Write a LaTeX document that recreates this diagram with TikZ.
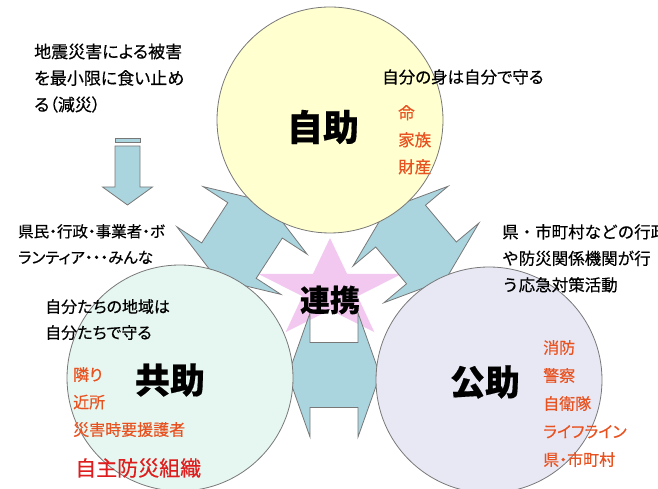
\documentclass[tikz,border=0pt]{standalone}
\usepackage{fontspec}
\setmainfont{Noto Sans CJK JP}[RawFeature=+palt, FakeBold=0.4]
\newfontfamily\fullw{Noto Sans CJK JP}[FakeBold=0.4]
\usepackage{tikz}
\usetikzlibrary{shapes,positioning}
\definecolor{linegray}{RGB}{120,120,120}
\definecolor{arrowblue}{RGB}{170,212,222}
\definecolor{starpink}{RGB}{243,200,240}
\definecolor{jijofill}{RGB}{255,255,208}
\definecolor{kyojofill}{RGB}{230,246,240}
\definecolor{kojofill}{RGB}{232,232,245}
\definecolor{textred}{RGB}{232,82,32}
\definecolor{deepred}{RGB}{222,30,30}

\begin{document}
\begin{tikzpicture}[x=1pt, y=1pt, txt/.style={inner sep=0pt, align=left, anchor=north west}, big/.style={inner sep=0pt}]
\tikzstyle{circ}=[circle, draw=linegray, line width=0.8pt, minimum size=226pt, inner sep=0pt]
\tikzstyle{arr}=[draw=linegray, line width=0.8pt, fill=arrowblue]
\useasboundingbox (0,0) rectangle (658,489);
\clip (0,0) rectangle (658,489);
% star behind everything
\begin{scope}[shift={(330,199)}, xscale=1.45]
\node[star, star points=5, star point ratio=2.6, minimum size=104pt, inner sep=0pt, fill=starpink, transform shape] (star) at (0,0) {};
\end{scope}
\node[txt, font=\fontsize{15.5}{26}\selectfont] (minna) at (18,265) {県民・行政・事業者・ボ\\ランティア・・・みんな};
% double arrows between the circles
\foreach \cx/\cy/\ang in {242/248.5/57, 416/244.5/-50, 334/114/0}
  \draw[arr, shift={(\cx,\cy)}, rotate=\ang] (46,0) -- (24,62) -- (24,32.5) -- (-24,32.5) -- (-24,62) -- (-46,0) -- (-24,-62) -- (-24,-32.5) -- (24,-32.5) -- (24,-62) -- cycle;
% circles
\node[circ, fill=jijofill] (jijo) at (330,369) {};
\node[circ, fill=kyojofill] (kyojo) at (180,111) {};
\node[circ, fill=kojofill] (kojo) at (489,109) {};
% down arrow
\draw[arr] (115,351) rectangle (140,347);
\draw[arr] (115,343) -- (115,302) -- (102.5,302) -- (127.5,284) -- (152.5,302) -- (140,302) -- (140,343) -- cycle;
% texts
\node[txt, font=\fontsize{17}{26.5}\selectfont] (gensai) at (34,445.5) {地震災害による被害\\を最小限に食い止め\\る（減災）};
\node[inner sep=0pt, anchor=west, font=\fontsize{16.5}{20}\selectfont] (mamoru) at (382,412) {自分の身は自分で守る};
\node[txt, text=textred, font=\fontsize{16.5}{27}\selectfont] (jijolist) at (398,384) {命\\家族\\財産};
\node[txt, font=\fontsize{16}{26}\selectfont] (chiiki) at (45,190) {自分たちの地域は\\自分たちで守る};
\node[txt, text=textred, font=\fontsize{16}{27.5}\selectfont] (kyojolist) at (73,122) {隣り\\近所\\災害時要援護者};
\node[inner sep=0pt, anchor=west, text=deepred, font=\fontsize{21}{21}\selectfont] (soshiki) at (75,21) {自主防災組織};
\node[txt, font=\fullw\fontsize{16.5}{26.5}\selectfont] (gyosei) at (502,265) {県・市町村などの行政\\や防災関係機関が行\\う応急対策活動};
\node[txt, text=textred, font=\fontsize{16}{28}\selectfont] (kojolist) at (543,149) {消防\\警察\\自衛隊\\ライフライン\\県・市町村};
\node[big, font=\fontsize{36}{36}\selectfont\bfseries] (jijolbl) at (323,362) {自助};
\node[big, font=\fontsize{35}{35}\selectfont\bfseries] (kyojolbl) at (170,109) {共助};
\node[big, font=\fontsize{35}{35}\selectfont\bfseries] (kojolbl) at (485,107) {公助};
\node[big, font=\fontsize{30}{30}\selectfont\bfseries] (renkei) at (330,189) {連携};
\end{tikzpicture}
\end{document}
